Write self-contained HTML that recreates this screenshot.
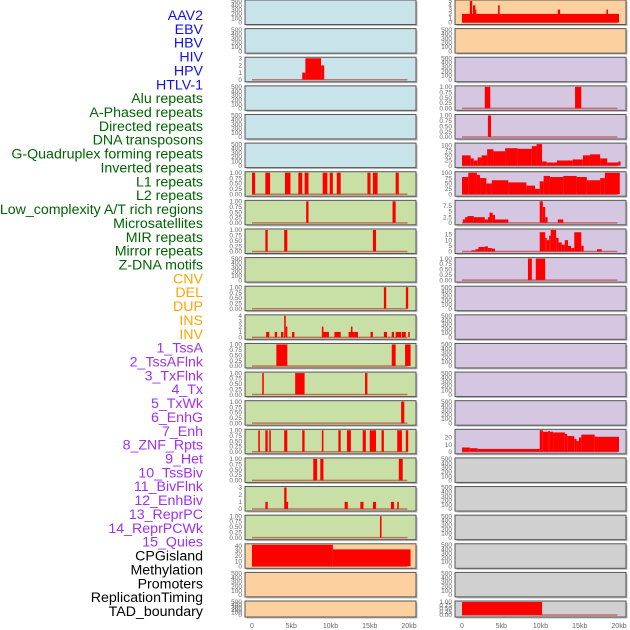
<!DOCTYPE html>
<html><head><meta charset="utf-8"><style>
body{margin:0;background:#fff;width:630px;height:630px;overflow:hidden}
svg{display:block}
</style></head><body>
<svg id="chart" width="630" height="630" xmlns="http://www.w3.org/2000/svg" font-family="Liberation Sans, sans-serif"></svg>
<script>
const labels=["AAV2","EBV","HBV","HIV","HPV","HTLV-1","Alu repeats","A-Phased repeats","Directed repeats","DNA transposons","G-Quadruplex forming repeats","Inverted repeats","L1 repeats","L2 repeats","Low_complexity A/T rich regions","Microsatellites","MIR repeats","Mirror repeats","Z-DNA motifs","CNV","DEL","DUP","INS","INV","1_TssA","2_TssAFlnk","3_TxFlnk","4_Tx","5_TxWk","6_EnhG","7_Enh","8_ZNF_Rpts","9_Het","10_TssBiv","11_BivFlnk","12_EnhBiv","13_ReprPC","14_ReprPCWk","15_Quies","CPGisland","Methylation","Promoters","ReplicationTiming","TAD_boundary"];
const labelColors=["#1010f0","#1010f0","#1010f0","#1010f0","#1010f0","#1010f0","#006400","#006400","#006400","#006400","#006400","#006400","#006400","#006400","#006400","#006400","#006400","#006400","#006400","#ffa500","#ffa500","#ffa500","#ffa500","#ffa500","#a030f0","#a030f0","#a030f0","#a030f0","#a030f0","#a030f0","#a030f0","#a030f0","#a030f0","#a030f0","#a030f0","#a030f0","#a030f0","#a030f0","#a030f0","#000","#000","#000","#000","#000"];
const xTickKb=[0,5,10,15,20];
const xTickLabels=["0","5kb","10kb","15kb","20kb"];
const T01=[0,0.25,0.5,0.75,1],T01L=["0.00","0.25","0.50","0.75","1.00"];
const TE=[0,100,200,300,400,500];
const dHIV=[[6.4,6.8,1],[6.8,8.8,3],[8.8,9.2,2]];
const dL6=[[0,0.4,1],[1.7,2.3,1],[4.2,4.9,1],[5.9,6.4,1],[6.7,7.2,1],[9.0,9.6,1],[9.9,10.3,1],[10.8,11.3,1],[14.7,15.1,1],[15.4,16,1],[18.3,18.7,1]];
const dL7=[[6.9,7.2,1],[17.9,18.3,1]];
const dL8=[[1.7,2.0,1],[4.1,4.5,1],[15.4,15.8,1]];
const dL10=[[16.8,17.1,1],[19.6,19.9,1]];
const dL11=[[1.8,2.2,1],[2.9,3.2,1],[3.7,4.0,1],[4.1,4.3,4],[4.3,4.5,2],[5.1,5.4,1],[8.9,9.1,2],[9.1,9.5,1],[9.5,9.8,1],[10.5,11.3,1],[12.3,12.6,1],[12.6,12.8,2],[12.8,13.1,1],[13.1,13.5,1],[15.1,15.4,1],[16.8,17.2,1],[17.8,18.1,1],[18.3,19.0,1],[19.1,19.6,1],[19.9,20.1,1]];
const dL12=[[3.1,4.5,1],[17.8,18.3,1],[19.5,20.2,1]];
const dL13=[[1.3,1.5,1],[5.5,6.7,1],[14.4,14.7,1]];
const dL14=[[19.0,19.4,1]];
const dL15=[[0.8,1.0,1],[1.7,2.0,1],[2.2,2.4,1],[4.1,4.5,1],[6.4,6.7,1],[8.9,9.1,1],[11.0,11.3,1],[12.1,12.6,1],[14.1,14.5,1],[15.0,15.8,1],[16.5,16.8,1],[18.5,19.1,1],[19.6,19.9,1]];
const dL16=[[7.8,8.3,1],[8.7,9.1,1],[18.7,19.2,1]];
const dL17=[[1.7,2.0,1],[4.1,4.4,3],[4.4,4.6,1],[11.8,12.2,1],[13.8,14.2,1],[15.4,15.8,1],[17.7,18.1,1],[18.5,18.7,1]];
const dL18=[[16.3,16.5,1]];
const dCPG=[[0,10.3,42],[10.3,20.2,33]];
const dR0=[[0,20,2],[1.0,1.3,5],[1.4,1.7,4],[1.7,1.8,3],[4.6,4.8,4],[12.2,12.5,3],[18.4,18.6,3]];
const dR3=[[2.9,3.6,1],[14.4,15.2,1]];
const dR4=[[3.3,3.7,1]];
const dR5=[[0,1.1,50],[1.1,1.5,35],[1.5,2,25],[2,2.5,40],[2.5,3.2,50],[3.2,4,80],[4,5.5,70],[5.5,7.1,85],[7.1,8.9,82],[8.9,9.5,95],[9.5,10.2,105],[10.2,10.8,20],[10.8,12.1,15],[12.1,14.1,25],[14.1,15.4,30],[15.4,16.3,50],[16.3,17.6,55],[17.6,18.5,35],[18.5,19.9,15],[19.9,20.2,20]];
const dR6=[[0,0.8,80],[0.8,1.9,100],[1.9,2.3,90],[2.3,3.1,75],[3.1,3.8,50],[3.8,5.9,65],[5.9,8.2,55],[8.2,9.3,40],[9.3,9.9,25],[9.9,10.4,60],[10.4,11.2,85],[11.2,12.9,80],[12.9,14.6,85],[14.6,15.9,80],[15.9,17.6,65],[17.6,18.2,75],[18.2,20.1,100]];
const dR7=[[0.1,0.4,1.5],[0.4,0.7,2.5],[0.7,1.5,3],[1.5,2.1,2.5],[2.1,2.9,2.5],[2.9,3.3,1.5],[3.3,3.5,2.5],[3.5,3.9,4.5],[3.9,4.2,3.5],[4.2,5.9,1.5],[9.9,10.3,9.5],[10.3,10.6,7],[10.6,10.9,2.5],[12.2,12.9,1.5]];
const dR8=[[1.2,1.7,1],[1.7,2.1,2],[2.1,2.9,4],[2.9,3.3,4.5],[3.3,3.8,3],[3.8,4.2,2.5],[9.9,10.6,17],[10.6,10.8,12],[10.8,11.1,10],[11.1,11.3,14],[11.3,12.0,19],[12.0,12.3,12],[12.3,12.7,8],[12.7,13.1,6],[13.1,13.5,10],[13.5,13.9,5],[13.9,14.3,3],[14.3,15.2,17],[15.2,15.5,5],[17.2,17.8,2]];
const dR9=[[8.4,8.9,1],[9.4,10.6,1]];
const dR15=[[0,1,6],[1,2,5],[2,9.9,4],[9.9,10.3,30],[10.3,11.0,28],[11.0,11.2,29],[11.2,11.6,28],[11.6,13.1,27],[13.1,13.4,25],[13.4,14.3,22],[14.3,14.6,18],[14.6,14.9,15],[14.9,15.2,20],[15.2,16.9,24],[16.9,20,21]];
const dTAD=[[0,10.2,1]];
const BL="#c9e3eb",GR="#c8e0a5",OR="#fdd09f",PU="#d5c6e2",GY="#d0d0d0";
const leftPanels=[[BL,null],[BL,null],[BL,dHIV,3,[0,1,2,3]],[BL,null],[BL,null],[BL,null],
[GR,dL6,1],[GR,dL7,1],[GR,dL8,1],[GR,null],[GR,dL10,1],[GR,dL11,4,[0,1,2,3,4]],[GR,dL12,1],[GR,dL13,1],[GR,dL14,1],[GR,dL15,1],[GR,dL16,1],[GR,dL17,3,[0,1,2,3]],[GR,dL18,1],
[OR,dCPG,42,[0,10,20,30,40]],[OR,null],[OR,null]];
const rightPanels=[[OR,dR0,5,[0,1,2,3,4,5]],[OR,null],[PU,null],[PU,dR3,1],[PU,dR4,1],[PU,dR5,105,[0,25,50,75,100]],[PU,dR6,100,[0,25,50,75,100]],[PU,dR7,9.5,[0,2.5,5,7.5]],[PU,dR8,19,[0,5,10,15]],[PU,dR9,1],
[PU,null],[PU,null],[PU,null],[PU,null],[PU,null],[PU,dR15,30,[0,10,20]],[GY,null],[GY,null],[GY,null],[GY,null],[GY,null],[GY,dTAD,1]];
const NS="http://www.w3.org/2000/svg",svg=document.getElementById('chart');
function mk(t,a,p){const e=document.createElementNS(NS,t);for(const k in a)e.setAttribute(k,a[k]);(p||svg).appendChild(e);return e;}
labels.forEach((s,i)=>{const t=mk('text',{x:203,y:20+i*13.86,'text-anchor':'end','font-size':'14.2',fill:labelColors[i]});t.textContent=s;

});
function drawCol(panels,px0,kb0,name){
 const xs=kb=>kb0+kb*7.85;
 panels.forEach((p,i)=>{
  const top=i*28.62, h=(i===21)?16:24.5, bot=top+h;
  const g=mk('g',{});
  
  
  mk('rect',{x:px0+1.5,y:top+1.5,width:171,height:h,fill:'#b8b8b8'},g);
  mk('rect',{x:px0,y:top,width:171,height:h,fill:p[0],stroke:'#555','stroke-width':1},g);
  const data=p[1], ymax=data?(p[2]||1):500;
  const ticks=data?(p[3]||T01):TE;
  const tl=data?(p[3]?p[3].map(String):T01L):TE.map(String);
  const y0=bot-2, ys=v=>y0-(v/ymax)*(y0-top-1);
  ticks.forEach((v,k)=>{const t=mk('text',{x:px0-3,y:ys(v)+2.2,'text-anchor':'end','font-size':'6.5',fill:'#666'},g);t.textContent=tl[k];
   
   });
  if(data){
   data.forEach(d=>{const r=mk('rect',{x:xs(d[0]),y:ys(d[2]),width:Math.max(1,xs(d[1])-xs(d[0])),height:y0-ys(d[2]),fill:'#ff0000'},g);
    
    });
   mk('line',{x1:xs(0),x2:xs(19.8),y1:y0,y2:y0,stroke:'rgba(190,40,40,0.6)','stroke-width':1.5},g);
  }
 });
 xTickKb.forEach((k,j)=>{const t=mk('text',{x:xs(k),y:628,'text-anchor':'middle','font-size':'7',fill:'#666'});t.textContent=xTickLabels[j];
  
  });
}
drawCol(leftPanels,245,252,'left');
drawCol(rightPanels,455,462,'right');
</script>
</body></html>
